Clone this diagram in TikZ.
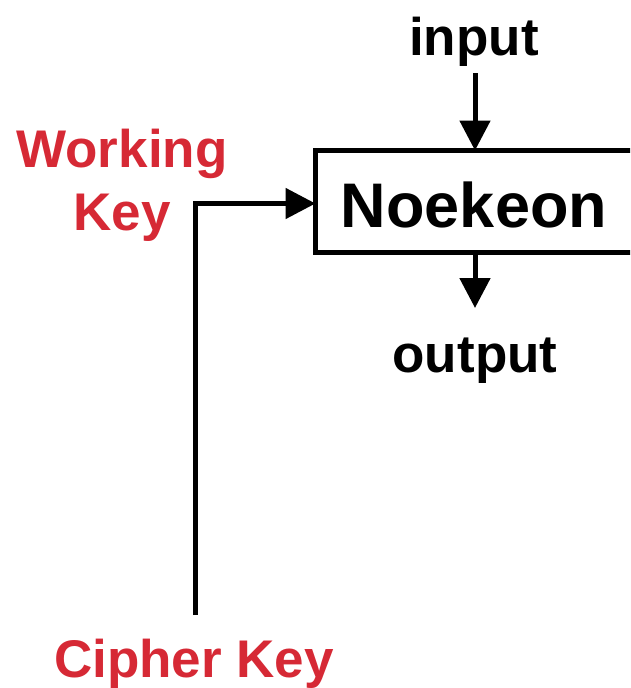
\documentclass[tikz,border=0pt]{standalone}
\usepackage{fontspec}
\setmainfont{Liberation Sans}
\usetikzlibrary{arrows.meta}
\definecolor{keyred}{RGB}{214,41,53}
\begin{document}
\begin{tikzpicture}[x=1pt,y=-1pt,
  wire/.style={line width=5pt},
  arr/.style={wire,-{Triangle[length=30pt,width=30pt]}},
  lbl/.style={font=\fontsize{53}{60}\selectfont\bfseries,anchor=base,inner sep=0pt},
  keylbl/.style={lbl,text=keyred}]
\useasboundingbox (0,0) rectangle (630,688);
\begin{scope}
\clip (0,0) rectangle (630,688);
% cipher block (right edge runs past the page)
\draw[wire] (315.5,150.5) rectangle (660,252);
\end{scope}
\node[lbl,font=\fontsize{63}{70}\selectfont\bfseries] (noek) at (474,227) {Noekeon};
\coordinate (boxtop) at (475,150.5);
\coordinate (boxbot) at (475,252);
\coordinate (boxleft) at (315.5,203.5);
% labels
\node[lbl] (in) at (474,55) {input};
\node[lbl] (out) at (475,372) {output};
\node[keylbl] (wk1) at (122,167) {Working};
\node[keylbl] (wk2) at (122,230) {Key};
\node[keylbl] (ck) at (194,677) {Cipher Key};
% connectors
\coordinate (inS) at (475,73);
\coordinate (outE) at (475,308);
\coordinate (ckT) at (195.5,615);
\coordinate (bend) at (195.5,203.5);
\draw[arr] (inS) -- (boxtop);
\draw[arr] (boxbot) -- (outE);
\draw[arr] (ckT) -- (bend) -- (boxleft);
\end{tikzpicture}
\end{document}
